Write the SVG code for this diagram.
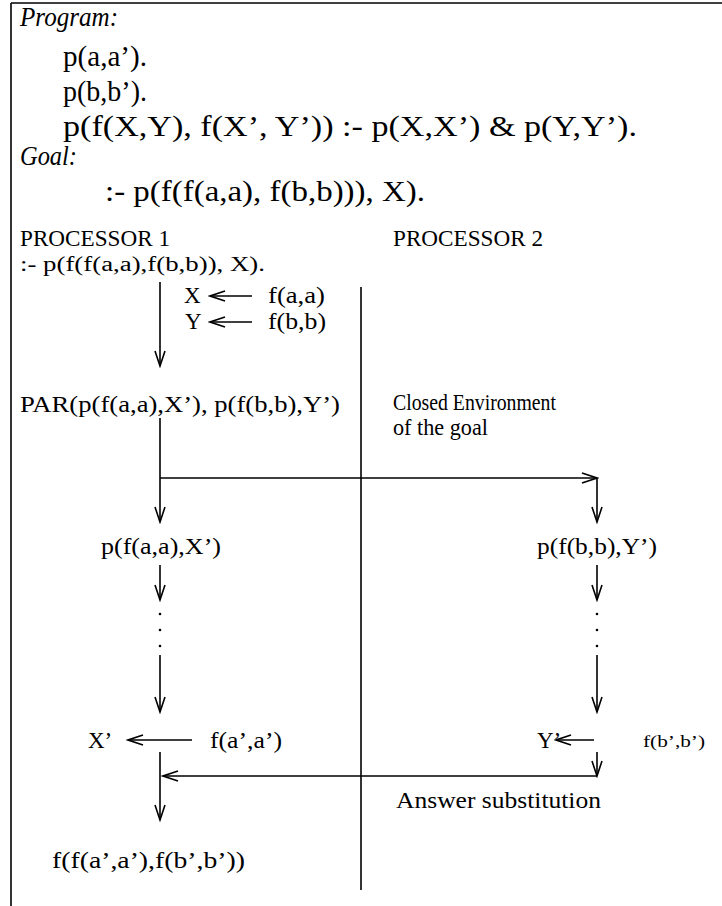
<svg xmlns="http://www.w3.org/2000/svg" width="722" height="906" viewBox="0 0 722 906">
<style>
text{font-family:"Liberation Serif","Times New Roman",serif;fill:#000}
.it{font-style:italic;font-size:27px}
.code{font-size:30px}
.lo{font-size:23px}
.sm{font-size:16px}
.ln{stroke:#000;stroke-width:1.6;fill:none}
.ar{stroke:#000;stroke-width:1.6;fill:none;marker-end:url(#ah)}
</style>
<defs>
<marker id="ah" markerUnits="userSpaceOnUse" markerWidth="18" markerHeight="12" viewBox="0 0 18 12" refX="16" refY="6" orient="auto">
<path d="M1,1 L16,6 L1,11" stroke="#000" stroke-width="1.6" fill="none"/>
</marker>
</defs>
<rect width="722" height="906" fill="#fff"/>
<g id="frame">
<line class="ln" x1="11" y1="3" x2="722" y2="3"/>
<line class="ln" x1="11" y1="3" x2="11" y2="906"/>
</g>
<g id="program">
<text class="it" x="20" y="26" textLength="98" lengthAdjust="spacingAndGlyphs">Program:</text>
<text class="code" x="63" y="66" textLength="84" lengthAdjust="spacingAndGlyphs">p(a,a’).</text>
<text class="code" x="63" y="101" textLength="84" lengthAdjust="spacingAndGlyphs">p(b,b’).</text>
<text class="code" x="63" y="136" textLength="574" lengthAdjust="spacingAndGlyphs">p(f(X,Y), f(X’, Y’)) :- p(X,X’) &amp; p(Y,Y’).</text>
<text class="it" x="20" y="165" textLength="57" lengthAdjust="spacingAndGlyphs">Goal:</text>
<text class="code" x="105" y="201" textLength="320" lengthAdjust="spacingAndGlyphs">:- p(f(f(a,a), f(b,b))), X).</text>
</g>
<g id="connectors">
<line class="ln" x1="361" y1="287" x2="361" y2="890"/>
<line class="ar" x1="160" y1="282" x2="160" y2="366"/>
<line class="ar" x1="252" y1="296" x2="210" y2="296"/>
<line class="ar" x1="252" y1="322" x2="210" y2="322"/>
<line class="ar" x1="160" y1="418" x2="160" y2="522"/>
<line class="ar" x1="160" y1="478" x2="597" y2="478"/>
<line class="ar" x1="597" y1="478" x2="597" y2="522"/>
<line class="ar" x1="160" y1="565" x2="160" y2="600"/>
<line class="ar" x1="160" y1="655" x2="160" y2="712"/>
<line class="ar" x1="597" y1="565" x2="597" y2="600"/>
<line class="ar" x1="597" y1="655" x2="597" y2="712"/>
<line class="ar" x1="192" y1="740" x2="128" y2="740"/>
<line class="ar" x1="160" y1="752" x2="160" y2="820"/>
<line class="ar" x1="597" y1="776" x2="163" y2="776"/>
<line class="ar" x1="594" y1="740" x2="556" y2="740"/>
<line class="ar" x1="597" y1="752" x2="597" y2="776"/>
<g fill="#000">
<circle cx="160" cy="614" r="1.3"/><circle cx="160" cy="630" r="1.3"/><circle cx="160" cy="646" r="1.3"/>
<circle cx="597" cy="614" r="1.3"/><circle cx="597" cy="630" r="1.3"/><circle cx="597" cy="646" r="1.3"/>
</g>
</g>
<g id="proc1">
<text class="lo" x="20" y="246" textLength="150" lengthAdjust="spacingAndGlyphs">PROCESSOR 1</text>
<text class="lo" x="20" y="271" textLength="245" lengthAdjust="spacingAndGlyphs" style="font-size:20px">:- p(f(f(a,a),f(b,b)), X).</text>
</g>
<g id="sub-x"><text class="lo" x="184" y="303">X</text><text class="lo" x="268" y="303" textLength="57" lengthAdjust="spacingAndGlyphs">f(a,a)</text></g>
<g id="sub-y"><text class="lo" x="185" y="329">Y</text><text class="lo" x="268" y="329" textLength="58" lengthAdjust="spacingAndGlyphs">f(b,b)</text></g>
<g id="par"><text class="lo" x="20" y="412" textLength="320" lengthAdjust="spacingAndGlyphs">PAR(p(f(a,a),X’), p(f(b,b),Y’)</text></g>
<g id="proc2">
<text class="lo" x="393" y="246" textLength="150" lengthAdjust="spacingAndGlyphs">PROCESSOR 2</text>
</g>
<g id="closed-env">
<text class="lo" x="393" y="410" textLength="163" lengthAdjust="spacingAndGlyphs">Closed Environment</text>
<text class="lo" x="393" y="435" textLength="95" lengthAdjust="spacingAndGlyphs">of the goal</text>
</g>
<g id="goal-a"><text class="lo" x="101" y="554" textLength="120" lengthAdjust="spacingAndGlyphs">p(f(a,a),X’)</text></g>
<g id="goal-b"><text class="lo" x="537" y="554" textLength="120" lengthAdjust="spacingAndGlyphs">p(f(b,b),Y’)</text></g>
<g id="xprime"><text class="lo" x="88" y="748">X’</text><text class="lo" x="210" y="748" textLength="72" lengthAdjust="spacingAndGlyphs">f(a’,a’)</text></g>
<g id="yprime"><text class="lo" x="537" y="748">Y’</text><text class="sm" x="643" y="747" textLength="62" lengthAdjust="spacingAndGlyphs">f(b’,b’)</text></g>
<g id="answer"><text class="lo" x="396" y="808" textLength="205" lengthAdjust="spacingAndGlyphs">Answer substitution</text></g>
<g id="result"><text class="lo" x="52" y="868" textLength="193" lengthAdjust="spacingAndGlyphs">f(f(a’,a’),f(b’,b’))</text></g>
</svg>
